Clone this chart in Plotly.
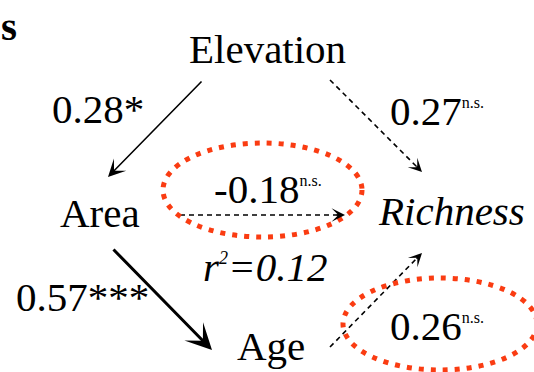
import plotly.graph_objects as go

# Path model: standardized coefficients and their significance
path_from = ["Elevation", "Elevation", "Area", "Area", "Age"]
path_to = ["Area", "Richness", "Richness", "Age", "Richness"]
coefs = [0.28, 0.27, -0.18, 0.57, 0.26]
signif = ["*", "n.s.", "n.s.", "***", "n.s."]
r_squared = 0.12
highlighted = [("Area", "Richness"), ("Age", "Richness")]

# ---- layout (pixel canvas, y grows downward) ----
W, H = 534, 372
FONT = "Liberation Serif"
FS = 41

node_pos = {
    "Elevation": (267, 49),
    "Area": (100, 213),
    "Richness": (451, 211),
    "Age": (271, 346),
}
italic_nodes = {"Richness"}

# edge geometry: (tail, tip), and label centre
edge_geom = {
    ("Elevation", "Area"): ((203, 80), (108, 177)),
    ("Elevation", "Richness"): ((330, 80), (422, 172)),
    ("Area", "Richness"): ((180, 215), (345, 215)),
    ("Area", "Age"): ((112, 248), (212, 350)),
    ("Age", "Richness"): ((330, 347), (422, 253)),
}
label_pos = {
    ("Elevation", "Area"): (98, 109),
    ("Elevation", "Richness"): (437, 111),
    ("Area", "Richness"): (268, 189),
    ("Area", "Age"): (82, 297),
    ("Age", "Richness"): (437, 326),
}
r2_pos = (265, 267)
ellipse_box = {
    ("Area", "Richness"): (163, 143, 362, 237),
    ("Age", "Richness"): (343, 278, 537, 370),
}
RED = "#fa3c12"

fig = go.Figure()
annotations = []
shapes = []


def sup(txt, size=16):
    return f"<sup><span style='font-size:{size}px'>{txt}</span></sup>"


# nodes
for name, (x, y) in node_pos.items():
    txt = f"<i>{name}</i>" if name in italic_nodes else name
    annotations.append(dict(x=x, y=y, text=txt, showarrow=False,
                            xanchor="center", yanchor="middle",
                            font=dict(family=FONT, size=FS, color="black")))

# edges
for a, b, c, s in zip(path_from, path_to, coefs, signif):
    (tx, ty), (hx, hy) = edge_geom[(a, b)]
    if s == "n.s.":
        # dashed shaft, then a short arrow for the head
        dx, dy = hx - tx, hy - ty
        L = (dx * dx + dy * dy) ** 0.5
        ux, uy = dx / L, dy / L
        shapes.append(dict(type="line", xref="x", yref="y",
                           x0=tx, y0=ty, x1=hx - ux * 6, y1=hy - uy * 6,
                           line=dict(color="black", width=1.6, dash="5px,4px")))
        annotations.append(dict(x=hx, y=hy, ax=hx - ux * 10, ay=hy - uy * 10,
                                xref="x", yref="y", axref="x", ayref="y",
                                text="", showarrow=True, arrowhead=3,
                                arrowsize=1.4, arrowwidth=1.6,
                                arrowcolor="black", standoff=0))
        label = f"{c:.2f}" + sup(s)
    else:
        w = 3 if s == "***" else 1.6
        size = 1.45 if s == "***" else 1.8
        annotations.append(dict(x=hx, y=hy, ax=tx, ay=ty,
                                xref="x", yref="y", axref="x", ayref="y",
                                text="", showarrow=True, arrowhead=3,
                                arrowsize=size, arrowwidth=w,
                                arrowcolor="black", standoff=0))
        label = f"{c:.2f}{s}"
    lx, ly = label_pos[(a, b)]
    annotations.append(dict(x=lx, y=ly, text=label, showarrow=False,
                            xanchor="center", yanchor="middle",
                            font=dict(family=FONT, size=FS, color="black")))

# explained variance of richness
annotations.append(dict(x=r2_pos[0], y=r2_pos[1],
                        text=f"<i>r{sup('2', 18)}={r_squared:.2f}</i>",
                        showarrow=False, xanchor="center", yanchor="middle",
                        font=dict(family=FONT, size=FS, color="black")))

# panel letter
annotations.append(dict(x=0, y=26, text="<b>s</b>", showarrow=False,
                        xanchor="left", yanchor="middle", borderpad=0,
                        font=dict(family=FONT, size=FS, color="black")))

# dotted highlight rings
for key in highlighted:
    x0, y0, x1, y1 = ellipse_box[key]
    shapes.append(dict(type="circle", xref="x", yref="y", layer="above",
                       x0=x0, y0=y0, x1=x1, y1=y1,
                       line=dict(color=RED, width=5, dash="5px,7px")))

fig.update_layout(
    width=W, height=H,
    margin=dict(l=0, r=0, t=0, b=0),
    paper_bgcolor="white", plot_bgcolor="white",
    xaxis=dict(range=[0, W], visible=False, fixedrange=True),
    yaxis=dict(range=[H, 0], visible=False, fixedrange=True),
    showlegend=False,
    annotations=annotations,
    shapes=shapes,
)

fig.write_html("out.html")
